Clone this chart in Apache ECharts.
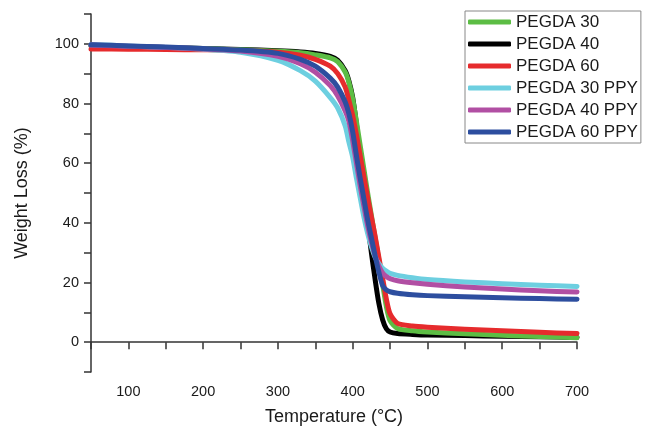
<!DOCTYPE html>
<html lang="en">
<head>
    <meta charset="UTF-8">
    <title>TGA curves</title>
    <style>
        * {
            margin: 0;
            padding: 0;
        }

        .main {
            width: 646px;
            height: 431px;
            background: #fff;
        }
    </style>
</head>
<body>
<div id="main" class="main"></div>
<script src="https://cdn.jsdelivr.net/npm/echarts@6/dist/echarts.min.js"></script>
<script>
    // temperature points (°C), shared by all curves
    var temps = [50, 100, 150, 200, 250, 300, 330, 350, 370, 380, 390, 395, 400, 405, 410, 415, 420, 425, 430, 435, 440, 445, 450, 460, 480, 500, 550, 600, 650, 700];

    var pegda30 = [99.3, 99.0, 98.7, 98.4, 98.0, 97.5, 97.0, 96.3, 95.3, 94.0, 90.5, 87.0, 81.5, 74.0, 66.0, 58.0, 50.0, 42.5, 35.0, 27.5, 19.5, 12.0, 7.2, 4.6, 3.8, 3.4, 2.8, 2.3, 1.9, 1.5];
    var pegda40 = [99.5, 99.1, 98.8, 98.4, 98.1, 97.7, 97.3, 96.8, 95.8, 94.5, 91.0, 87.5, 82.0, 73.0, 62.0, 51.0, 40.0, 30.0, 21.0, 13.0, 7.5, 4.5, 3.4, 2.9, 2.6, 2.4, 2.2, 2.0, 1.8, 1.6];
    var pegda60 = [98.3, 98.2, 98.1, 98.0, 97.8, 97.2, 96.2, 94.8, 92.5, 90.0, 85.5, 81.0, 76.0, 69.5, 62.5, 55.5, 48.5, 42.0, 35.5, 28.5, 21.5, 14.5, 9.5, 6.3, 5.4, 5.0, 4.3, 3.8, 3.3, 2.9];
    var pegda30ppy = [99.7, 99.3, 98.8, 98.2, 97.2, 94.5, 91.0, 87.5, 82.0, 78.5, 72.5, 67.0, 62.0, 55.0, 48.5, 42.0, 36.5, 32.0, 28.5, 26.3, 24.8, 23.8, 23.1, 22.4, 21.6, 21.0, 20.2, 19.6, 19.1, 18.7];
    var pegda40ppy = [99.6, 99.2, 98.8, 98.3, 97.6, 95.8, 93.3, 90.5, 86.0, 82.5, 77.5, 74.0, 67.5, 60.0, 52.5, 45.5, 39.0, 33.5, 29.0, 25.5, 23.2, 22.0, 21.3, 20.6, 19.9, 19.4, 18.5, 17.8, 17.2, 16.8];
    var pegda60ppy = [99.7, 99.3, 98.9, 98.4, 97.9, 96.8, 94.8, 92.5, 88.5, 85.5, 80.5, 76.5, 70.5, 62.5, 55.0, 48.0, 41.0, 35.0, 29.0, 23.5, 19.0, 17.5, 16.9, 16.4, 15.9, 15.6, 15.2, 14.9, 14.6, 14.4];

    var names = ['PEGDA 30', 'PEGDA 40', 'PEGDA 60', 'PEGDA 30 PPY', 'PEGDA 40 PPY', 'PEGDA 60 PPY'];
    var colors = ['#5cbd44', '#000000', '#e62b2d', '#6dcfe0', '#b14fa3', '#2d4e9f'];
    var values = [pegda30, pegda40, pegda60, pegda30ppy, pegda40ppy, pegda60ppy];

    // black goes under green, as in the figure
    var drawOrder = [1, 0, 2, 3, 4, 5];

    function pairs(ys) {
        return temps.map(function (t, i) {
            return [t, ys[i]];
        });
    }

    var font = 'Liberation Sans, Arial, sans-serif';

    var myChart = echarts.init(document.getElementById('main'), null, {renderer: 'canvas'});

    myChart.setOption({
        backgroundColor: '#fff',
        animation: false,
        grid: {
            left: 91,
            right: 69,
            top: 14,
            bottom: 57
        },
        legend: {
            data: names,
            orient: 'vertical',
            left: 465,
            top: 11,
            padding: [2, 3, 2, 3],
            itemGap: 4,
            itemWidth: 43,
            itemHeight: 5,
            icon: 'roundRect',
            borderColor: '#888',
            borderWidth: 1,
            textStyle: {
                fontFamily: font,
                fontSize: 17,
                lineHeight: 18,
                color: '#1a1a1a'
            }
        },
        xAxis: {
            type: 'value',
            min: 50,
            max: 700,
            interval: 50,
            name: 'Temperature (°C)',
            nameLocation: 'middle',
            nameGap: 36,
            nameTextStyle: {fontFamily: font, fontSize: 18, color: '#1a1a1a'},
            splitLine: {show: false},
            axisLine: {lineStyle: {color: '#333', width: 1.5}},
            axisTick: {inside: false, length: 7, lineStyle: {color: '#333', width: 1.5}},
            axisLabel: {
                margin: 12,
                fontFamily: font,
                fontSize: 14.5,
                color: '#1a1a1a',
                formatter: function (v) {
                    return v % 100 === 0 ? String(v) : '';
                }
            }
        },
        yAxis: {
            type: 'value',
            min: -10,
            max: 110,
            interval: 10,
            name: 'Weight Loss (%)',
            nameLocation: 'middle',
            nameGap: 60,
            nameTextStyle: {fontFamily: font, fontSize: 18, color: '#1a1a1a'},
            splitLine: {show: false},
            axisLine: {lineStyle: {color: '#333', width: 1.5}},
            axisTick: {inside: false, length: 7, lineStyle: {color: '#333', width: 1.5}},
            axisLabel: {
                margin: 12,
                fontFamily: font,
                fontSize: 14.5,
                color: '#1a1a1a',
                formatter: function (v) {
                    return (v % 20 === 0 && v >= 0 && v <= 100) ? String(v) : '';
                }
            }
        },
        series: drawOrder.map(function (k) {
            return {
                name: names[k],
                type: 'line',
                data: pairs(values[k]),
                symbol: 'none',
                smooth: 0.25,
                color: colors[k],
                lineStyle: {width: 5, color: colors[k], cap: 'round', join: 'round'}
            };
        })
    });
</script>
</body>
</html>
